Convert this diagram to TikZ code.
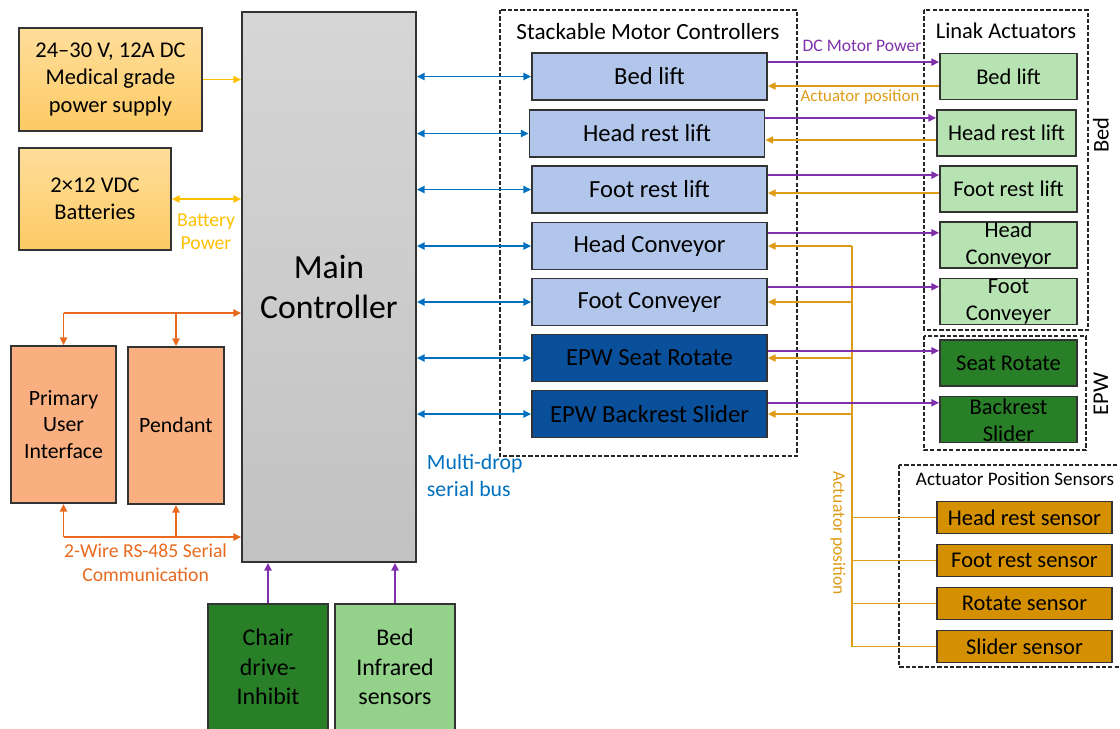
\documentclass[tikz,border=0pt]{standalone}
\usepackage{fontspec}
\setmainfont{Carlito}
\usetikzlibrary{arrows.meta}

\definecolor{psutop}{RGB}{255,222,155}
\definecolor{psubot}{RGB}{252,202,100}
\definecolor{uiorange}{RGB}{249,175,127}
\definecolor{mcblue}{RGB}{177,198,234}
\definecolor{epwblue}{RGB}{10,79,154}
\definecolor{actgreen}{RGB}{183,226,177}
\definecolor{darkgreen}{RGB}{40,127,40}
\definecolor{irgreen}{RGB}{148,209,139}
\definecolor{sensgold}{RGB}{212,144,0}
\definecolor{supplycol}{RGB}{255,192,0}
\definecolor{rscol}{RGB}{232,106,30}
\definecolor{pwrcol}{RGB}{128,48,170}
\definecolor{poscol}{RGB}{222,155,22}
\definecolor{buscol}{RGB}{0,112,192}

\begin{document}
\begin{tikzpicture}[>={Triangle[length=5.5pt,width=5pt]},
    box/.style={draw=black!80,line width=1.2pt,inner sep=0pt,align=center},
    mc/.style={box,fill=mcblue,minimum width=5.875cm,minimum height=1.175cm,font=\fontsize{17.5}{21}\selectfont},
    mcepw/.style={mc,fill=epwblue},
    act/.style={box,fill=actgreen,minimum width=3.425cm,minimum height=1.15cm,font=\fontsize{16}{19}\selectfont},
    actepw/.style={act,fill=darkgreen},
    sens/.style={box,fill=sensgold,minimum width=4.375cm,minimum height=0.8cm,font=\fontsize{16}{19}\selectfont},
    grp/.style={draw=black!85,line width=0.9pt,dash pattern=on 3pt off 1.5pt},
    supply/.style={->,supplycol,line width=1.3pt},
    rs/.style={rscol,line width=1.3pt},
    bus/.style={<->,buscol,line width=1.3pt},
    pwr/.style={->,pwrcol,line width=1.5pt},
    posarrow/.style={->,poscol,line width=1.3pt},
    posline/.style={poscol,line width=1.3pt}]
    \clip (0,0) rectangle (28,-18.2);

    \node[box,top color=psutop,bottom color=psubot,minimum width=4.575cm,minimum height=2.575cm,font=\fontsize{16}{19.5}\selectfont] (psu) at (2.7625,-1.9875) {24–30 V, 12A DC\\Medical grade\\power supply};
    \node[box,top color=psutop,bottom color=psubot,minimum width=3.8cm,minimum height=2.55cm,font=\fontsize{16}{19.5}\selectfont] (batt) at (2.375,-4.975) {2×12 VDC\\Batteries};
    \node[box,fill=uiorange,minimum width=2.625cm,minimum height=3.925cm,font=\fontsize{15.5}{19}\selectfont] (pui) at (1.5875,-10.6125) {Primary\\User\\Interface};
    \node[box,fill=uiorange,minimum width=2.4cm,minimum height=3.925cm,font=\fontsize{15.5}{19}\selectfont] (pendant) at (4.4,-10.6375) {Pendant};

    \node[box,top color=black!16,bottom color=black!24,minimum width=4.35cm,minimum height=13.75cm,font=\fontsize{24}{29}\selectfont] (main) at (8.225,-7.175) {Main\\Controller};

    \node[box,fill=darkgreen,minimum width=3cm,minimum height=3.15cm,font=\fontsize{17}{21}\selectfont] (chair) at (6.7,-16.675) {Chair\\drive-\\Inhibit};
    \node[box,fill=irgreen,minimum width=3cm,minimum height=3.15cm,font=\fontsize{17}{21}\selectfont] (bedir) at (9.875,-16.675) {Bed\\Infrared\\sensors};

    % motor controllers
    \draw[grp] (12.5,-0.25) rectangle (19.925,-11.4);
    \node[font=\fontsize{16.5}{20}\selectfont] (mctitle) at (16.2,-0.78) {Stackable Motor Controllers};
    \node[mc] (mcbed) at (16.2375,-1.9125) {Bed lift};
    \node[mc] (mchead) at (16.175,-3.3375) {Head rest lift};
    \node[mc] (mcfoot) at (16.2375,-4.7375) {Foot rest lift};
    \node[mc] (mcheadconv) at (16.2375,-6.15) {Head Conveyor};
    \node[mc] (mcfootconv) at (16.2375,-7.55) {Foot Conveyer};
    \node[mcepw] (mcrotate) at (16.2375,-8.95) {EPW Seat Rotate};
    \node[mcepw] (mcslider) at (16.2375,-10.35) {EPW Backrest Slider};

    % actuators
    \draw[grp] (23.1,-0.25) rectangle (27.2,-8.25);
    \draw[grp] (23.1,-8.4) rectangle (27.15,-11.25);
    \node[font=\fontsize{16}{19}\selectfont] (actitle) at (25.15,-0.78) {Linak Actuators};
    \node[rotate=90,font=\fontsize{16}{19}\selectfont] (bedlbl) at (27.52,-3.375) {Bed};
    \node[rotate=90,font=\fontsize{16}{19}\selectfont] (epwlbl) at (27.52,-9.85) {EPW};
    \node[act] (acbed) at (25.2125,-1.9125) {Bed lift};
    \node[act,minimum width=3.475cm] (achead) at (25.1625,-3.325) {Head rest lift};
    \node[act] (acfoot) at (25.2125,-4.725) {Foot rest lift};
    \node[act] (acheadconv) at (25.2125,-6.125) {};
    \node[act,draw=none,fill=none] (acheadconvtxt) at (acheadconv) {Head\\Conveyor};
    \node[act] (acfootconv) at (25.2125,-7.5375) {};
    \node[act,draw=none,fill=none] (acfootconvtxt) at (acfootconv) {Foot\\Conveyer};
    \node[actepw] (acrotate) at (25.2125,-9.075) {Seat Rotate};
    \node[actepw] (acslider) at (25.2125,-10.4875) {};
    \node[act,draw=none,fill=none] (acslidertxt) at (25.2125,-10.51) {Backrest\\Slider};

    % position sensors
    \draw[grp] (22.475,-11.625) rectangle (28.3,-16.675);
    \node[font=\fontsize{13.6}{16}\selectfont] (sntitle) at (25.375,-11.975) {Actuator Position Sensors};
    \node[sens] (snhead) at (25.6125,-12.9375) {Head rest sensor};
    \node[sens] (snfoot) at (25.6125,-14.0125) {Foot rest sensor};
    \node[sens] (snrotate) at (25.6125,-15.0875) {Rotate sensor};
    \node[sens] (snslider) at (25.6125,-16.1625) {Slider sensor};

    % power and user interface
    \draw[supply] (psu.east) -- (psu.east -| main.west);
    \draw[supply,<->] (batt.east) -- (batt.east -| main.west);
    \node[text=supplycol,align=center,font=\fontsize{14}{16.5}\selectfont] (battlbl) at (5.15,-5.79) {Battery\\Power};

    \coordinate (rstop) at (1.5875,-7.825);
    \coordinate (rsbot) at (1.5875,-13.425);
    \draw[rs,->] (rstop) -- (rstop -| main.west);
    \draw[rs,->] (rstop) -- (pui.north);
    \draw[rs,->] (rstop -| pendant.north) -- (pendant.north);
    \draw[rs,->] (rsbot) -- (pui.south);
    \draw[rs] (rsbot) -- (rsbot -| pendant.south);
    \draw[rs,->] (rsbot -| pendant.south) -- (pendant.south);
    \draw[rs,->] (rsbot -| pendant.south) -- (rsbot -| main.west);
    \node[text=rscol,align=center,font=\fontsize{14}{17.5}\selectfont] (rslbl) at (3.64,-14.07) {2-Wire RS-485 Serial\\Communication};

    \draw[pwr] (chair.north) -- (chair.north |- main.south);
    \draw[pwr] (bedir.north) -- (bedir.north |- main.south);

    % serial bus
    \foreach \m in {mcbed,mchead,mcfoot,mcheadconv,mcfootconv,mcrotate,mcslider}
      \draw[bus] (\m.west -| main.east) -- (\m.west);
    \node[text=buscol,align=left,anchor=west,font=\fontsize{15.5}{19}\selectfont] (buslbl) at (10.55,-11.89) {Multi-drop\\serial bus};

    % motor power and feedback
    \foreach \m/\a/\p/\o in {mcbed/acbed/0.36/-0.24,mchead/achead/0.39/-0.16,mcfoot/acfoot/0.36/-0.09}{
      \draw[pwr] ([yshift=\p cm]\m.east) -- ([yshift=\p cm]\m.east -| \a.west);
      \draw[posarrow] ([yshift=\o cm]\m.east -| \a.west) -- ([yshift=\o cm]\m.east);
    }
    \node[text=pwrcol,font=\fontsize{12.5}{15}\selectfont] (dclbl) at (21.55,-1.15) {DC Motor Power};
    \node[text=poscol,font=\fontsize{12}{15}\selectfont] (poslbl) at (21.5,-2.42) {Actuator position};

    \coordinate (bustop) at (21.3,-6.15);
    \coordinate (busbot) at (21.3,-16.1625);
    \draw[posline] (bustop) -- (busbot);
    \foreach \m/\a/\p in {mcheadconv/acheadconv/0.33,mcfootconv/acfootconv/0.38,mcrotate/acrotate/0.18,mcslider/acslider/0.28}{
      \draw[pwr] ([yshift=\p cm]\m.east) -- ([yshift=\p cm]\m.east -| \a.west);
      \draw[posarrow] (\m.east -| bustop) -- (\m.east);
    }
    \foreach \s in {snhead,snfoot,snrotate,snslider}
      \draw[posline] (\s.west -| bustop) -- (\s.west);
    \node[text=poscol,rotate=-90,font=\fontsize{12.5}{15}\selectfont] (posbuslbl) at (20.95,-13.33) {Actuator position};
  \end{tikzpicture}
\end{document}
